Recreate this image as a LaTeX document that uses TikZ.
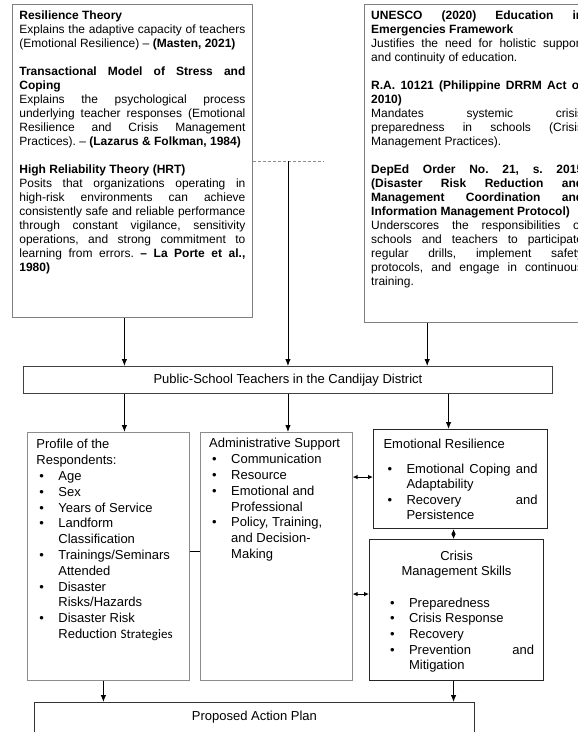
\documentclass[tikz,border=0pt]{standalone}
\usepackage{fontspec}
\setmainfont{Liberation Sans}
\newfontfamily\calfont{Carlito}
\usetikzlibrary{shapes,arrows.meta,positioning,calc}

\tolerance=10000
\hyphenpenalty=10000
\hbadness=10000
\frenchspacing

% bullet item with hanging indent
\newcommand{\bitem}[2][3pt]{\par\noindent\hangindent=\dimexpr#1+19pt\relax\hangafter=1\makebox[\dimexpr#1+19pt\relax][l]{\hspace{#1}\textbullet}#2}

\begin{document}
\begin{tikzpicture}[
    x=1pt, y=-1pt,
    theorybox/.style={
        rectangle,
        draw=black!50,
        line width=0.8pt,
        anchor=north west,
        align=justify,
        inner xsep=7pt,
        inner ysep=6pt,
        text height=9pt,
        font=\fontsize{12}{14}\selectfont
    },
    varbox/.style={
        rectangle,
        draw=black!45,
        line width=0.8pt,
        anchor=north west,
        align=justify,
        inner xsep=9pt,
        text height=9.5pt,
        font=\fontsize{13}{15.8}\selectfont
    },
    dvbox/.style={
        rectangle,
        draw=black!85,
        line width=1.1pt,
        anchor=north west,
        align=justify,
        text height=9.5pt,
        font=\fontsize{13}{15.6}\selectfont
    },
    link/.style={
        draw,
        -{Latex[length=7pt,width=5.5pt]},
        line width=0.9pt
    },
    twoway/.style={
        draw,
        {Latex[length=5pt,width=4.5pt]}-{Latex[length=5pt,width=4.5pt]},
        line width=0.9pt
    }
]
    \useasboundingbox (0,0) rectangle (578,732);

    % Theories
    \node [theorybox, text width=226pt, text depth=292pt] (theory) at (12,4) {%
        \textbf{Resilience Theory}\par
        Explains the adaptive capacity of teachers \linebreak (Emotional Resilience) -- \textbf{(Masten, 2021)}\par
        \vspace{14pt}
        \textbf{Transactional Model of Stress and \linebreak Coping}\par
        Explains the psychological process \linebreak underlying teacher responses (Emotional \linebreak Resilience and Crisis Management \linebreak Practices). -- \textbf{(Lazarus \& Folkman, 1984)}\par
        \vspace{14pt}
        \textbf{High Reliability Theory (HRT)}\par
        Posits that organizations operating in \linebreak high-risk environments can achieve \linebreak consistently safe and reliable performance \linebreak through constant vigilance, sensitivity \linebreak operations, and strong commitment to \linebreak learning from errors. \textbf{-- La Porte et al., \linebreak 1980)}\par};

    % Legal bases
    \node [theorybox, text width=212pt, text depth=297pt, right=111pt of theory.north east, anchor=north west] (legal) {%
        \textbf{UNESCO (2020) Education in \linebreak Emergencies Framework}\par
        Justifies the need for holistic support \linebreak and continuity of education.\par
        \vspace{14pt}
        \textbf{R.A. 10121 (Philippine DRRM Act of \linebreak 2010)}\par
        Mandates systemic crisis \linebreak preparedness in schools (Crisis \linebreak Management Practices).\par
        \vspace{14pt}
        \textbf{DepEd Order No. 21, s. 2015 \linebreak (Disaster Risk Reduction and \linebreak Management Coordination and \linebreak Information Management Protocol)}\par
        Underscores the responsibilities of \linebreak schools and teachers to participate \linebreak regular drills, implement safety \linebreak protocols, and engage in continuous \linebreak training.\par};

    % Respondents
    \node [rectangle, draw=black!75, line width=0.9pt, minimum width=529pt, minimum height=27pt, inner sep=0pt, anchor=north west, font=\fontsize{13}{15.6}\selectfont] (teachers) at (23,366) {Public-School Teachers in the Candijay District};

    % Variables
    \node [varbox, text width=144pt, inner ysep=7pt, text depth=224.5pt] (profile) at (27,432) {%
        Profile of the\newline Respondents:
        \bitem{Age}
        \bitem{Sex}
        \bitem{Years of Service}
        \bitem{Landform\newline Classification}
        \bitem{Trainings/Seminars\newline Attended}
        \bitem{Disaster\newline Risks/Hazards}
        \bitem{Disaster Risk\newline Reduction {\calfont Strategies}}\par};
    \node [varbox, text width=134pt, inner ysep=6pt, text depth=226.5pt, right=10pt of profile.north east, anchor=north west] (admin) {%
        Administrative Support
        \bitem{Communication}
        \bitem{Resource}
        \bitem{Emotional and\newline Professional}
        \bitem{Policy, Training,\newline and Decision-\newline Making}\par};
    \node [dvbox, text width=154pt, inner xsep=10pt, inner ysep=9pt, text depth=71.5pt] (emo) at (373,429) {%
        Emotional Resilience\par
        \vspace{9.5pt}
        \bitem[4pt]{Emotional Coping and \linebreak Adaptability}
        \bitem[4pt]{Recovery and \linebreak Persistence}\par};
    \node [dvbox, text width=155pt, inner xsep=9.5pt, inner ysep=11pt, text depth=109.5pt] (crisis) at (369,539) {%
        {\centering Crisis\\Management Skills\par}
        \vspace{16pt}
        \bitem[11pt]{Preparedness}
        \bitem[11pt]{Crisis Response}
        \bitem[11pt]{Recovery}
        \bitem[11pt]{Prevention and \linebreak Mitigation}\par};

    % Output
    \node [rectangle, draw=black!80, line width=0.9pt, minimum width=440pt, inner xsep=0pt, inner ysep=9pt, text height=9.5pt, text depth=12.5pt, anchor=north west, font=\fontsize{13}{15.6}\selectfont] (plan) at (34,702) {Proposed Action Plan};

    % Edges
    \coordinate (dashend) at ([xshift=71pt]theory.east);
    \draw [densely dashed, black!45, line width=0.6pt] (theory.east) -- (dashend);
    \path [link] (teachers.north |- theory.east) -- (teachers.north);
    \path [link] ([xshift=-8pt]theory.south) -- ([xshift=-8pt]theory.south |- teachers.north);
    \path [link] ([xshift=-50pt]legal.south) -- ([xshift=-50pt]legal.south |- teachers.north);

    \path [link] ([xshift=16pt]profile.north |- teachers.south) -- ([xshift=16pt]profile.north);
    \path [link] (teachers.south) -- (teachers.south |- admin.north);
    \path [link] ([xshift=-12pt]emo.north |- teachers.south) -- ([xshift=-12pt]emo.north);

    \draw [line width=0.9pt] ([yshift=5pt]profile.east) -- ([yshift=5pt]profile.east -| admin.west);
    \path [twoway] ([yshift=2pt]emo.west -| admin.east) -- ([yshift=2pt]emo.west);
    \path [twoway] ([yshift=16pt]crisis.west -| admin.east) -- ([yshift=16pt]crisis.west);
    \path [twoway] ([xshift=-7pt]emo.south) -- ([xshift=-7pt]emo.south |- crisis.north);

    \path [link] ([xshift=-5pt]profile.south) -- ([xshift=-5pt]profile.south |- plan.north);
    \path [link] ([xshift=-3pt]crisis.south) -- ([xshift=-3pt]crisis.south |- plan.north);

\end{tikzpicture}
\end{document}
